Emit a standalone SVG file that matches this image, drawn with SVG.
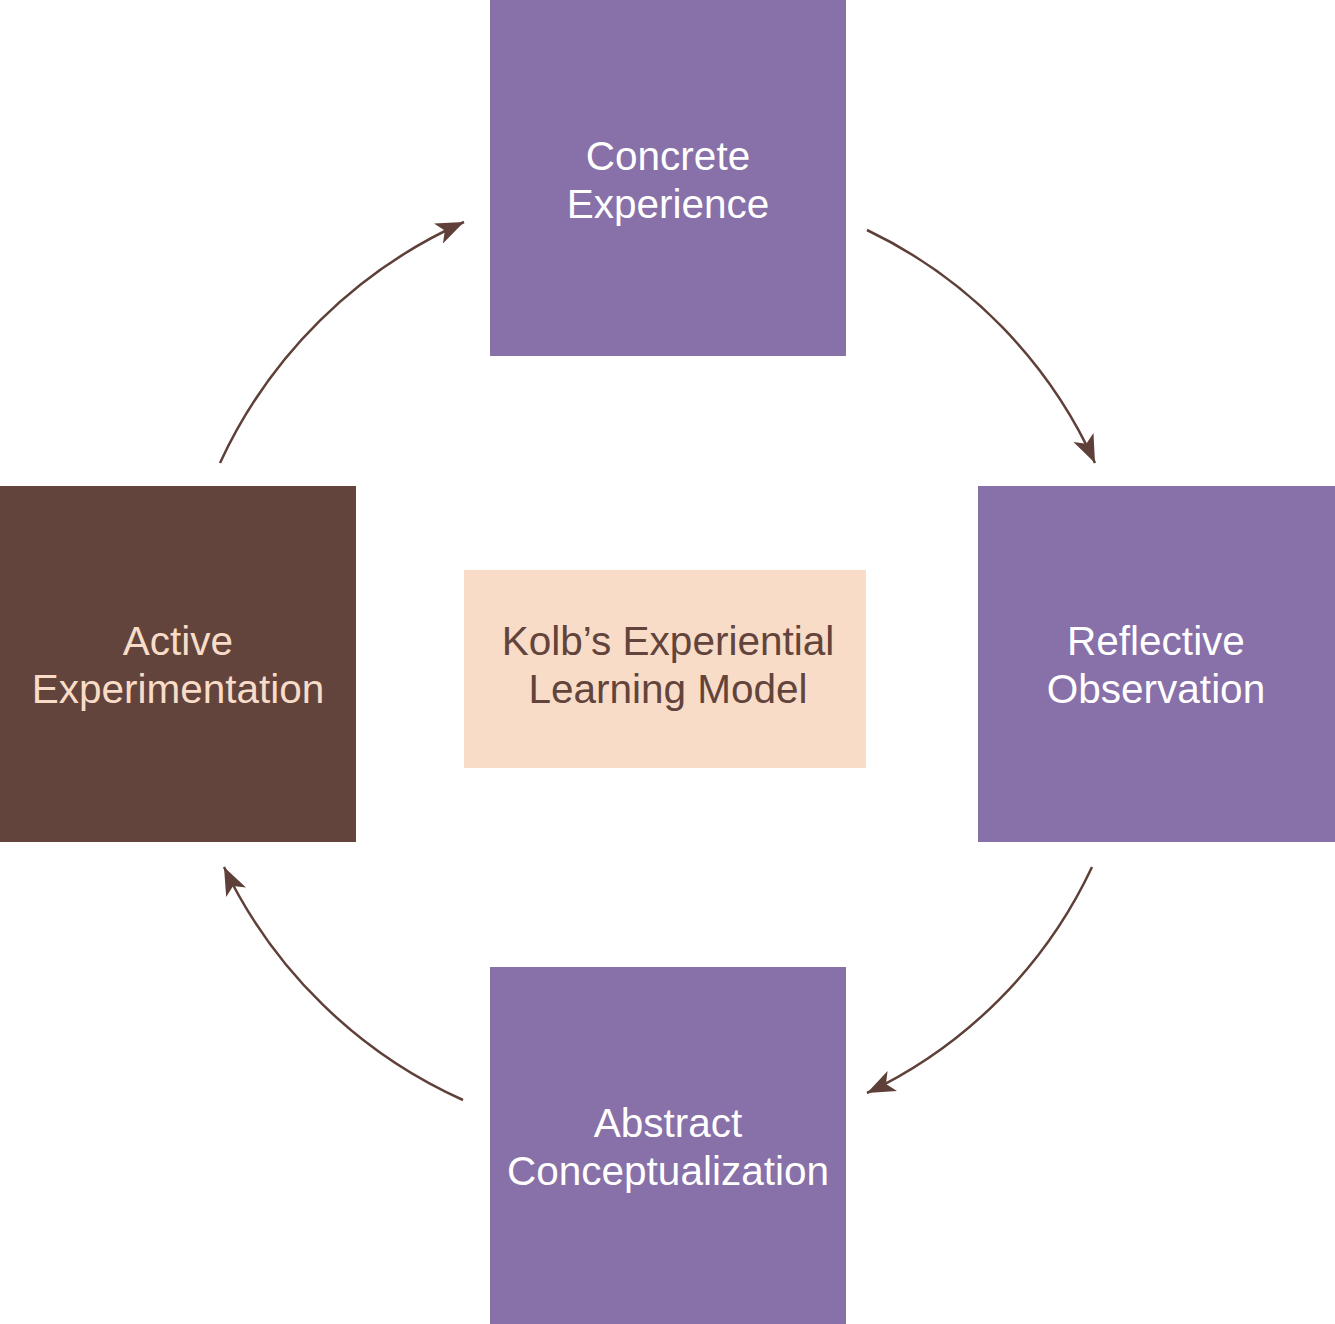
<svg xmlns="http://www.w3.org/2000/svg" width="1335" height="1324" viewBox="0 0 1335 1324">
  <style>
    .lbl { font-family: "Liberation Sans", Arial, sans-serif; font-size: 40.5px; text-anchor: middle; }
    .purple { fill: #8870A8; }
    .wt { fill: #FFFFFF; }
    .conn { fill: none; stroke: #5E4038; stroke-width: 2.5; marker-end: url(#ah); }
  </style>
  <defs>
    <marker id="ah" markerUnits="userSpaceOnUse" markerWidth="30" markerHeight="24" refX="28" refY="11" orient="auto" viewBox="0 0 30 24">
      <path d="M0,0 L28,11 L0,22 L7,11 z" fill="#5E4038"/>
    </marker>
  </defs>
  <rect width="1335" height="1324" fill="#FFFFFF"/>
  <g id="concrete-experience">
    <rect class="purple" x="490" y="0" width="356" height="356"/>
    <text class="lbl wt" x="668" y="170">Concrete</text>
    <text class="lbl wt" x="668" y="218">Experience</text>
  </g>
  <g id="reflective-observation">
    <rect class="purple" x="978" y="486" width="357" height="356"/>
    <text class="lbl wt" x="1156" y="655">Reflective</text>
    <text class="lbl wt" x="1156" y="703">Observation</text>
  </g>
  <g id="abstract-conceptualization">
    <rect class="purple" x="490" y="967" width="356" height="357"/>
    <text class="lbl wt" x="668" y="1137">Abstract</text>
    <text class="lbl wt" x="668" y="1185">Conceptualization</text>
  </g>
  <g id="active-experimentation">
    <rect x="0" y="486" width="356" height="356" fill="#62443C"/>
    <text class="lbl" x="178" y="655" fill="#F8DCC8">Active</text>
    <text class="lbl" x="178" y="703" fill="#F8DCC8">Experimentation</text>
  </g>
  <g id="center">
    <rect x="464" y="570" width="402" height="198" fill="#F8DCC8"/>
    <text class="lbl" x="668" y="655" fill="#62443C">Kolb’s Experiential</text>
    <text class="lbl" x="668" y="703" fill="#62443C">Learning Model</text>
  </g>
  <g id="connectors">
    <path class="conn" d="M867,230 A476,476 0 0 1 1095,463"/>
    <path class="conn" d="M1092,867 A472,472 0 0 1 867,1093"/>
    <path class="conn" d="M463,1100 A485,485 0 0 1 224,867"/>
    <path class="conn" d="M220,463 A488,488 0 0 1 464,222"/>
  </g>
</svg>
